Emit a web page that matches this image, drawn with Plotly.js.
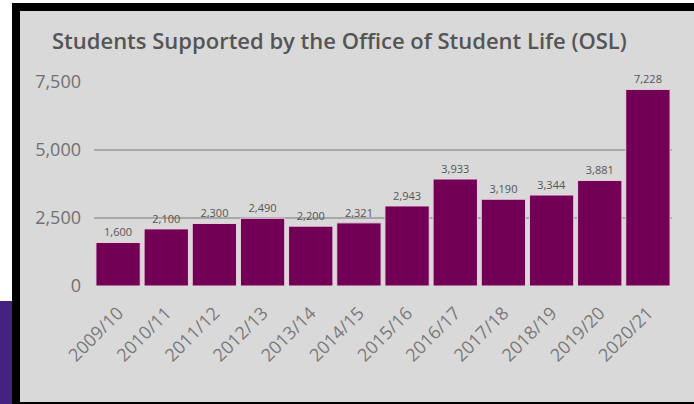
<!DOCTYPE html>
<html>
<head>
<meta charset="utf-8">
<script src="https://cdn.plot.ly/plotly-3.0.1.min.js"></script>
<style>
html,body{margin:0;padding:0;background:#ffffff;}
#wrap{position:relative;width:694px;height:404px;overflow:hidden;}
.bx{position:absolute;}
#chart{position:absolute;left:0;top:0;width:694px;height:404px;}
</style>
</head>
<body>
<div id="wrap">
  <div class="bx" style="left:12px;top:3px;width:682px;height:401px;background:#000;"></div>
  <div class="bx" style="left:20px;top:11px;width:674px;height:391px;background:#d9d9d9;"></div>
  <div class="bx" style="left:0;top:301px;width:12px;height:103px;background:#452180;"></div>
  <div id="chart"></div>
</div>
<script>
const years = ["2009/10","2010/11","2011/12","2012/13","2013/14","2014/15","2015/16","2016/17","2017/18","2018/19","2019/20","2020/21"];
const students = [1600, 2100, 2300, 2490, 2200, 2321, 2943, 3933, 3190, 3344, 3881, 7228];
const yTicks = [0, 2500, 5000, 7500];
const yTickText = ["0", "2,500", "5,000", "7,500"];
const titleText = "Students Supported by the Office of Student Life (OSL)";

const labels = students.map(v => v.toLocaleString("en-US"));

Plotly.newPlot("chart", [{
  type: "bar",
  x: years,
  y: students,
  text: labels,
  textposition: "outside",
  cliponaxis: false,
  textfont: {family: "Open Sans", size: 11, color: "#555555"},
  marker: {color: "#720054", line: {color: "#ead0e0", width: 1}},
  hoverinfo: "none"
}], {
  width: 694, height: 404,
  paper_bgcolor: "rgba(0,0,0,0)",
  plot_bgcolor: "rgba(0,0,0,0)",
  margin: {l: 94, r: 22, t: 82, b: 118},
  bargap: 0.08,
  showlegend: false,
  title: {
    text: titleText,
    x: 52 / 694, xref: "container", xanchor: "left",
    y: 1 - 41 / 404, yref: "container", yanchor: "middle",
    font: {family: "Open Sans", size: 22, color: "#555555", weight: 600}
  },
  xaxis: {
    type: "category",
    tickangle: -45,
    tickfont: {family: "Open Sans", size: 18, color: "#7a7a7a"},
    showgrid: false, zeroline: false, showline: false,
    ticks: "", ticklabelstandoff: 12, fixedrange: true
  },
  yaxis: {
    range: [0, 7500],
    tickvals: yTicks,
    ticktext: yTickText,
    tickfont: {family: "Open Sans", size: 18, color: "#707070"},
    showgrid: true, gridcolor: "#a8a8a8", gridwidth: 1.5,
    zeroline: false, showline: false, ticks: "",
    ticklabelstandoff: 12,
    fixedrange: true
  }
}, {displayModeBar: false, staticPlot: true});
</script>
</body>
</html>
